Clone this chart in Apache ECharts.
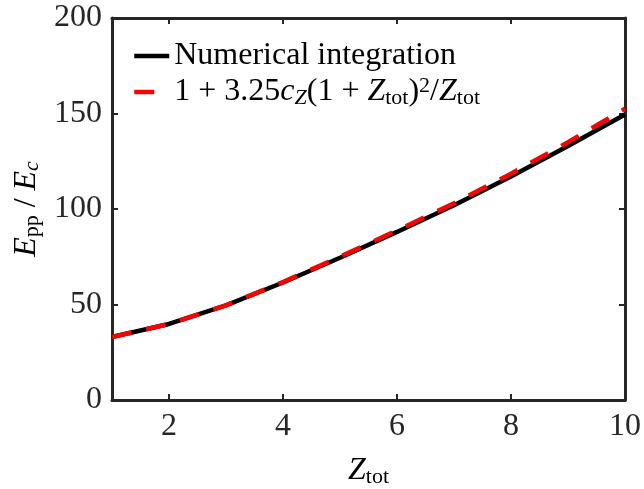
<!DOCTYPE html>
<html>
<head>
<meta charset="utf-8">
<script src="https://cdn.jsdelivr.net/npm/echarts@6/dist/echarts.min.js"></script>
<style>
    html, body { margin: 0; padding: 0; background: #fff; }
    #chart { width: 644px; height: 489px; }
</style>
</head>
<body>
<div id="chart"></div>
<script>
const zTot = ["1", "2", "3", "4", "5", "6", "7", "8", "9", "10"];
const numerical = [33, 39.8, 49.5, 61.5, 74.5, 88, 102, 117, 133, 149.5];
const fitted = [33, 39.8, 49.6, 61.8, 75, 88.8, 103, 118.5, 135, 152.5];
const yTicks = [0, 50, 100, 150, 200];

const font = "'Liberation Serif', serif";
const axisColor = "#262626";
const fontSize = 32;
const lineWidth = 4.5;

// math-ish rich text styles (italic letters, sub/superscripts)
const rich = {
    n: { fontFamily: font, fontSize: fontSize, lineHeight: 34, color: "#000" },
    i: { fontFamily: font, fontSize: fontSize, lineHeight: 34, fontStyle: "italic", color: "#000" },
    sub: { fontFamily: font, fontSize: 22, lineHeight: 14, verticalAlign: "bottom", color: "#000" },
    isub: { fontFamily: font, fontSize: 22, lineHeight: 14, verticalAlign: "bottom", fontStyle: "italic", color: "#000" },
    sup: { fontFamily: font, fontSize: 22, lineHeight: 16, verticalAlign: "top", color: "#000" }
};

const legendText = {
    numerical: "{n|Numerical integration}",
    fitted: "{n|1 + 3.25}{i|c}{isub|Z}{n|(1 + }{i|Z}{sub|tot}{n|)}{sup|2}{n|/}{i|Z}{sub|tot}"
};

function isEven(index, value) {
    return Number(value) % 2 === 0;
}

function boxAxis(type, position) {
    const axis = {
        type: type,
        position: position,
        axisLine: { show: true, onZero: false, lineStyle: { color: axisColor, width: 3 } },
        axisTick: { show: true, inside: true, length: 6, lineStyle: { color: axisColor, width: 2 } },
        axisLabel: { show: false },
        splitLine: { show: false }
    };

    if ( type === "category" ) {
        axis.data = zTot;
        axis.boundaryGap = false;
        axis.axisTick.interval = isEven;
    } else {
        axis.min = yTicks[0];
        axis.max = yTicks[yTicks.length - 1];
        axis.interval = yTicks[1] - yTicks[0];
    }

    return axis;
}

const xBottom = boxAxis("category", "bottom");
xBottom.axisLabel = {
    show: true,
    interval: isEven,
    fontFamily: font,
    fontSize: fontSize,
    color: axisColor,
    margin: 11
};
xBottom.name = "{i|Z}{sub|tot}";
xBottom.nameLocation = "middle";
xBottom.nameGap = 54;
xBottom.nameTextStyle = { rich: rich };

const yLeft = boxAxis("value", "left");
yLeft.axisLabel = {
    show: true,
    fontFamily: font,
    fontSize: fontSize,
    color: axisColor,
    margin: 10
};
yLeft.name = "{i|E}{sub|pp}{n| / }{i|E}{isub|c}";
yLeft.nameLocation = "middle";
yLeft.nameGap = 67;
yLeft.nameTextStyle = { rich: rich };

const option = {
    animation: false,
    backgroundColor: "#fff",
    grid: {
        left: 112,
        right: 19,
        top: 18,
        bottom: 89,
        containLabel: false,
        outerBoundsMode: "none"
    },
    xAxis: [ xBottom, boxAxis("category", "top") ],
    yAxis: [ yLeft, boxAxis("value", "right") ],
    legend: {
        orient: "vertical",
        left: 132,
        top: 40,
        padding: 0,
        itemWidth: 35,
        itemHeight: 14,
        itemGap: 3,
        itemStyle: { opacity: 0 },
        lineStyle: { width: lineWidth },
        textStyle: { rich: rich },
        formatter: (name) => legendText[name],
        data: [ "numerical", "fitted" ]
    },
    series: [
        {
            name: "numerical",
            type: "line",
            data: numerical,
            symbol: "none",
            lineStyle: { color: "#000", width: lineWidth },
            itemStyle: { color: "#000" },
            z: 3
        },
        {
            name: "fitted",
            type: "line",
            data: fitted,
            symbol: "none",
            lineStyle: { color: "#ff0000", width: lineWidth, type: [20, 15] },
            itemStyle: { color: "#ff0000" },
            z: 4
        }
    ]
};

const chart = echarts.init(document.getElementById("chart"));
chart.setOption(option);
</script>
</body>
</html>
